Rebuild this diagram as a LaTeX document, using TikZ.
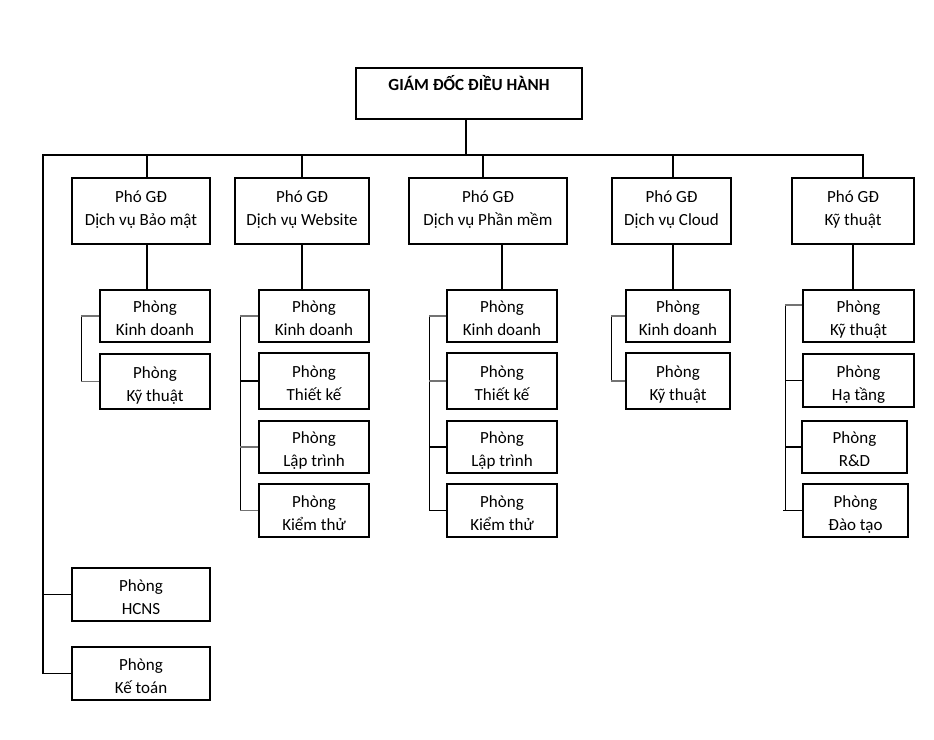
\documentclass[tikz,border=0pt]{standalone}
\usepackage{fontspec}
\setmainfont{Carlito}
\usepackage{xcolor}

\tikzset{
  box/.style={draw, line width=1.3pt, inner sep=0pt, align=center,
    font=\fontsize{17}{23}\selectfont},
  vp/.style={box, minimum height=66pt, text height=32pt, text depth=4pt},
  dept/.style={box, minimum width=110pt, minimum height=53pt, text height=41pt, text depth=2pt},
  link/.style={line width=1.3pt},
  greylink/.style={line width=1.6pt, draw=black!55}
}

\begin{document}
\begin{tikzpicture}[x=1pt,y=-1pt]
    \pgfmathsetmacro{\busY}{155}
    \pgfmathsetmacro{\rowA}{316}
    \pgfmathsetmacro{\rowB}{381}
    \pgfmathsetmacro{\rowC}{447}
    \pgfmathsetmacro{\rowD}{510.5}

    \useasboundingbox (0,0) rectangle (934,739);

    % Giam doc
    \node[box, minimum width=226pt, minimum height=51pt, text height=12pt, text depth=18pt,
      font=\fontsize{17}{23}\selectfont\bfseries] (ceo) at (469,93.5) {GIÁM ĐỐC ĐIỀU HÀNH};

    % Pho giam doc
    \node[vp, minimum width=138pt] (vpA) at (141,211) {Phó GĐ\\Dịch vụ Bảo mật};
    \node[vp, minimum width=134pt] (vpB) at (302,211) {Phó GĐ\\Dịch vụ Website};
    \node[vp, minimum width=158pt] (vpC) at (488,211) {Phó GĐ\\Dịch vụ Phần mềm};
    \node[vp, minimum width=119pt] (vpD) at (671.5,211) {Phó GĐ\\Dịch vụ Cloud};
    \node[vp, minimum width=122pt] (vpE) at (853,211) {Phó GĐ\\Kỹ thuật};

    % Phong ban - Bao mat
    \node[dept, minimum height=52pt] (kdA) at (155,\rowA) {Phòng\\Kinh doanh};
    \node[dept, minimum height=55pt] (ktA) at (155,381.5) {Phòng\\Kỹ thuật};

    % Phong ban - Website
    \node[dept, minimum height=52pt] (kdB) at (314,\rowA) {Phòng\\Kinh doanh};
    \node[dept, minimum height=56pt] (tkB) at (314,\rowB) {Phòng\\Thiết kế};
    \node[dept, minimum height=52pt] (ltB) at (314,\rowC) {Phòng\\Lập trình};
    \node[dept] (kthB) at (314,\rowD) {Phòng\\Kiểm thử};

    % Phong ban - Phan mem
    \node[dept, minimum height=52pt] (kdC) at (502,\rowA) {Phòng\\Kinh doanh};
    \node[dept, minimum height=56pt] (tkC) at (502,\rowB) {Phòng\\Thiết kế};
    \node[dept, minimum height=52pt] (ltC) at (502,\rowC) {Phòng\\Lập trình};
    \node[dept] (kthC) at (502,\rowD) {Phòng\\Kiểm thử};

    % Phong ban - Cloud
    \node[dept, minimum width=104pt, minimum height=52pt] (kdD) at (678,\rowA) {Phòng\\Kinh doanh};
    \node[dept, minimum width=104pt, minimum height=56pt] (ktD) at (678,\rowB) {Phòng\\Kỹ thuật};

    % Phong ban - Ky thuat
    \node[dept, minimum width=111pt, minimum height=52pt] (ktE) at (858.5,\rowA) {Phòng\\Kỹ thuật};
    \node[dept, minimum width=111pt] (htE) at (858.5,380.5) {Phòng\\Hạ tầng};
    \node[dept, minimum width=105pt, minimum height=52pt] (rdE) at (854.5,\rowC) {Phòng\\R\&D};
    \node[dept, minimum width=105pt] (dtE) at (855.5,\rowD) {Phòng\\Đào tạo};

    % Phong truc thuoc
    \node[dept, minimum width=138pt] (hcns) at (141,594.5) {Phòng\\HCNS};
    \node[dept, minimum width=138pt] (ketoan) at (141,673.5) {Phòng\\Kế toán};

    % Thanh ngang
    \coordinate (busL) at (43,\busY);
    \coordinate (busR) at (863,\busY);
    \coordinate (dropT) at (466,\busY);
    \coordinate (dropA) at (147,\busY);
    \coordinate (dropC) at (483,\busY);
    \coordinate (dropD) at (673,\busY);
    \draw[link] (dropT |- ceo.south) -- (dropT);
    \draw[link] (ketoan.west) -| (busL) -- (busR) -- (busR |- vpE.north);
    \draw[link] (busL |- hcns.west) -- (hcns.west);

    % Noi xuong pho giam doc
    \draw[link] (dropA) -- (dropA |- vpA.north);
    \draw[link] (vpB.north |- busL) -- (vpB.north);
    \draw[link] (dropC) -- (dropC |- vpC.north);
    \draw[link] (dropD) -- (dropD |- vpD.north);

    % Noi xuong phong ban
    \draw[link] (dropA |- vpA.south) -- (dropA |- kdA.north);
    \draw[link] (vpB.south) -- (vpB.south |- kdB.north);
    \draw[link] (kdC.north |- vpC.south) -- (kdC.north);
    \draw[link] (dropD |- vpD.south) -- (dropD |- kdD.north);
    \draw[link] (vpE.south) -- (vpE.south |- ktE.north);

    % Nhanh trai
    \draw[link] ([xshift=-18pt]kdA.west) -- ([xshift=-18pt]ktA.west);
    \draw[greylink] (kdA.west) -- ++(-18,0);
    \draw[greylink] (ktA.west) -- ++(-18,0);

    \draw[link] ([xshift=-18pt]kdB.west) -- ([xshift=-18pt]kthB.west);
    \draw[greylink] (kdB.west) -- ++(-18,0);
    \draw[link] (tkB.west) -- ++(-18,0);
    \draw[greylink] (ltB.west) -- ++(-18,0);
    \draw[greylink] (kthB.west) -- ++(-18,0);

    \draw[link] ([xshift=-17pt]kdC.west) -- ([xshift=-17pt]kthC.west);
    \draw[greylink] (kdC.west) -- ++(-17,0);
    \draw[greylink] (tkC.west) -- ++(-17,0);
    \draw[link] (ltC.west) -- ++(-17,0);
    \draw[link] (kthC.west) -- ++(-17,0);

    \draw[link] ([xshift=-14pt]kdD.west) -- ([xshift=-14pt]ktD.west);
    \draw[greylink] (kdD.west) -- ++(-14,0);
    \draw[greylink] (ktD.west) -- ++(-14,0);

    \draw[link] ([xshift=-17pt,yshift=11pt]ktE.west) -- ([xshift=-17pt]dtE.west);
    \draw[greylink] ([yshift=11pt]ktE.west) -- ++(-17,0);
    \draw[link] (htE.west) -- ++(-17,0);
    \draw[link] (rdE.west) -- ++(-16,0);
    \draw[link] (dtE.west) -- ++(-19,0);
\end{tikzpicture}
\end{document}
